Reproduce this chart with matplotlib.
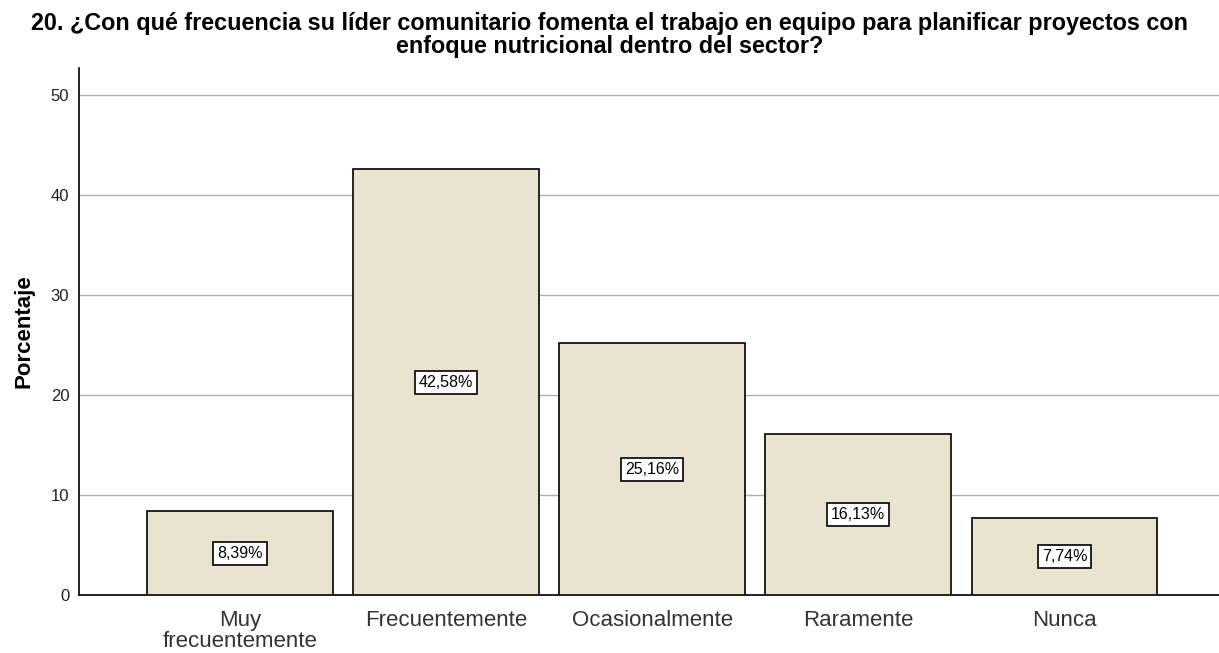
import numpy as np
import matplotlib.pyplot as plt

categories = ["Muy\nfrecuentemente", "Frecuentemente", "Ocasionalmente", "Raramente", "Nunca"]
percentages = [8.39, 42.58, 25.16, 16.13, 7.74]
labels = ["8,39%", "42,58%", "25,16%", "16,13%", "7,74%"]
yticks = [0, 10, 20, 30, 40, 50]

plt.rcParams['font.family'] = ['Liberation Sans', 'DejaVu Sans']

fig = plt.figure(figsize=(12.19, 6.53), dpi=100)
ax = fig.add_axes([0.0648, 0.0888, 0.9352, 0.8071])

x = np.arange(len(categories))
ax.bar(x, percentages, width=0.9, color='#EAE3CF', edgecolor='black', linewidth=1.2, zorder=3)

# boxed percentage labels in the middle of each bar
for xi, v, lab in zip(x, percentages, labels):
    ax.text(xi, v / 2, lab, ha='center', va='center', fontsize=11.5, zorder=4,
            bbox=dict(boxstyle='square,pad=0.25', facecolor='white', edgecolor='black', linewidth=1.2))

ax.set_xlim(-0.78, 4.75)
ax.set_ylim(0, 52.7)
ax.set_yticks(yticks)
ax.yaxis.grid(True, color='#b0b0b0', linewidth=1, zorder=0)
ax.set_xticks(x)
ax.set_xticklabels(categories, fontsize=16, color='#333333', linespacing=1.0)
ax.tick_params(axis='x', length=0, pad=11)
ax.tick_params(axis='y', labelsize=12, length=0, pad=7, labelcolor='#222222')

for s in ['top', 'right']:
    ax.spines[s].set_visible(False)
ax.spines['left'].set_linewidth(1.2)
ax.spines['bottom'].set_linewidth(1.2)

ax.set_ylabel("Porcentaje", fontsize=16, fontweight='bold')
ax.yaxis.set_label_coords(-0.039, 0.5)
fig.suptitle("20. ¿Con qué frecuencia su líder comunitario fomenta el trabajo en equipo para planificar proyectos con\nenfoque nutricional dentro del sector?",
             x=0.5, y=0.982, fontsize=16.8, fontweight='bold', linespacing=1.02)

fig.savefig("out.png", dpi=100)
